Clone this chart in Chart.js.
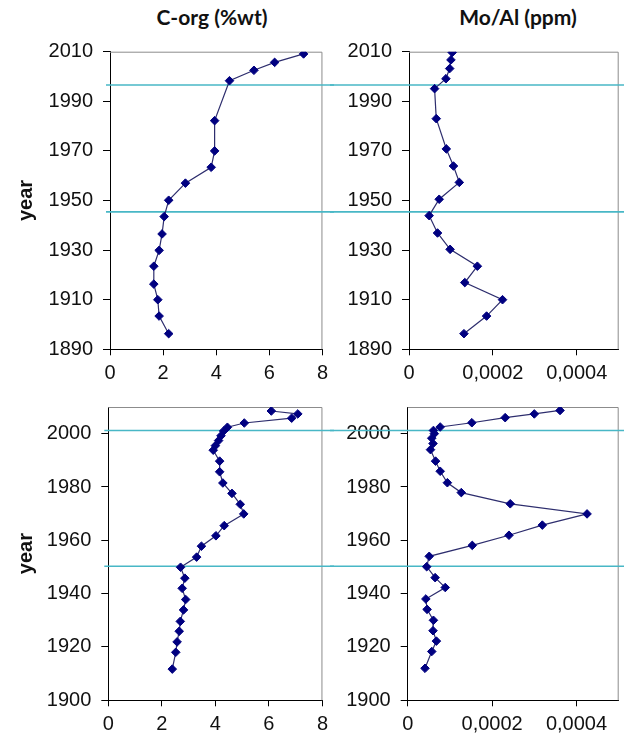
<!DOCTYPE html>
<html>
<head>
<meta charset="utf-8">
<script src="https://cdn.jsdelivr.net/npm/chart.js@4"></script>
<style>
  html, body { margin: 0; padding: 0; background: #fff; }
  #page { position: relative; width: 624px; height: 734px; overflow: hidden; }
  canvas { position: absolute; }
  .head { position: absolute; top: 4px; font: bold 21px Lato, "Open Sans", sans-serif; color: #111; white-space: nowrap; transform: translateX(-50%); }
</style>
</head>
<body>
<div id="page">
  <div class="head" style="left:212px">C-org (%wt)</div>
  <div class="head" style="left:518px">Mo/Al (ppm)</div>
  <canvas id="tl" width="334" height="385" style="left:0;top:0"></canvas>
  <canvas id="tr" width="294" height="385" style="left:330px;top:0"></canvas>
  <canvas id="bl" width="334" height="349" style="left:0;top:385px"></canvas>
  <canvas id="br" width="294" height="349" style="left:330px;top:385px"></canvas>
</div>
<script>
// Upper core: organic carbon and Mo/Al profiles by year
const corgUpperYears = [2009.1, 2005.7, 2002.5, 1998.3, 1982.2, 1970.0, 1963.4, 1957.0, 1950.1, 1943.5, 1936.5, 1929.9, 1923.5, 1916.3, 1910.0, 1903.4, 1896.3];
const corgUpperValues = [7.29, 6.2, 5.42, 4.5, 3.94, 3.94, 3.81, 2.84, 2.21, 2.04, 1.96, 1.85, 1.65, 1.65, 1.8, 1.85, 2.21];
const moalUpperYears = [2009.7, 2006.7, 2003.2, 1999.1, 1995.1, 1983.0, 1970.8, 1963.9, 1957.3, 1950.5, 1943.9, 1936.9, 1930.3, 1923.5, 1916.9, 1910.0, 1903.4, 1896.3];
const moalUpperValues = [0.000103, 0.0001, 0.000097, 0.000088, 0.000061, 0.000065, 0.000089, 0.000106, 0.00012, 0.000072, 0.000048, 0.000068, 0.000098, 0.000163, 0.000133, 0.000223, 0.000185, 0.000131];

// Lower core
const corgLowerYears = [2008.5, 2007.4, 2005.8, 2004.0, 2002.4, 2001.0, 1999.2, 1997.4, 1995.5, 1993.8, 1989.7, 1985.7, 1981.5, 1977.6, 1973.5, 1969.9, 1965.5, 1961.7, 1957.8, 1953.7, 1949.9, 1945.8, 1942.0, 1937.8, 1933.9, 1929.6, 1925.9, 1921.9, 1918.0, 1911.7];
const corgLowerValues = [6.09, 7.08, 6.85, 5.08, 4.45, 4.31, 4.21, 4.12, 4.0, 3.92, 4.16, 4.16, 4.28, 4.62, 4.93, 5.06, 4.33, 4.02, 3.48, 3.3, 2.7, 2.86, 2.76, 2.89, 2.81, 2.69, 2.65, 2.57, 2.52, 2.39];
const moalLowerYears = [2008.7, 2007.4, 2006.0, 2004.1, 2002.5, 2001.2, 2000.0, 1998.3, 1996.3, 1994.0, 1989.7, 1985.9, 1981.6, 1977.9, 1973.7, 1969.9, 1965.7, 1961.9, 1958.1, 1954.0, 1950.1, 1946.0, 1942.3, 1938.0, 1934.1, 1930.0, 1926.1, 1922.2, 1918.3, 1912.0];
const moalLowerValues = [0.000361, 0.0003, 0.000231, 0.000152, 0.000077, 0.000061, 0.000063, 0.000057, 0.00006, 0.000054, 0.000066, 0.000077, 0.000094, 0.000127, 0.000243, 0.000425, 0.000319, 0.00024, 0.000153, 0.000051, 0.000045, 0.000065, 0.000089, 0.000043, 0.000046, 0.000061, 0.00006, 0.000068, 0.000057, 0.000041];

// Horizontal marker years dividing the profiles
const upperDividerYears = [1996.6, 1945.4];
const lowerDividerYears = [2001.2, 1950.3];

// Axis ticks
const upperYearTicks = [1890, 1910, 1930, 1950, 1970, 1990, 2010];
const lowerYearTicks = [1900, 1920, 1940, 1960, 1980, 2000];
const corgTicks = [0, 2, 4, 6, 8];
const moalTicks = [0, 0.0002, 0.0004];

const FONT = { family: '"Liberation Sans", Arial, sans-serif', size: 20 };
const MARK = '#000080';

function pairs(xs, ys) { return xs.map((x, i) => ({ x: x, y: ys[i] })); }
function commaFmt(v) { return String(+(+v).toFixed(6)).replace('.', ','); }

const dividerPlugin = {
  id: 'dividers',
  beforeDatasetsDraw(chart, args, opts) {
    const { ctx, chartArea: a, scales } = chart;
    ctx.save();
    // grey frame on top and right
    ctx.strokeStyle = '#8c8c8c';
    ctx.lineWidth = 1;
    ctx.beginPath();
    ctx.moveTo(a.left, a.top + 0.5);
    ctx.lineTo(a.right - 0.5, a.top + 0.5);
    ctx.lineTo(a.right - 0.5, a.bottom);
    ctx.stroke();
    // divider lines crossing the panel row
    ctx.strokeStyle = '#48b7c6';
    ctx.lineWidth = 1.6;
    for (const yr of opts.years) {
      const y = scales.y.getPixelForValue(yr);
      ctx.beginPath();
      ctx.moveTo(opts.fromLeft ? a.left - 4 : 0, y);
      ctx.lineTo(chart.width, y);
      ctx.stroke();
    }
    ctx.restore();
  }
};

function makePanel(id, cfg) {
  return new Chart(document.getElementById(id), {
    type: 'scatter',
    data: {
      datasets: [{
        data: pairs(cfg.xs, cfg.ys),
        showLine: true,
        borderColor: '#2e2e6e',
        borderWidth: 1.2,
        pointStyle: 'rectRot',
        pointRadius: 4.3,
        pointBackgroundColor: MARK,
        pointBorderColor: MARK,
        pointBorderWidth: 1
      }]
    },
    options: {
      responsive: false,
      animation: false,
      layout: { padding: cfg.padding },
      plugins: {
        legend: { display: false },
        tooltip: { enabled: false },
        dividers: { years: cfg.dividers, fromLeft: cfg.fromLeft }
      },
      scales: {
        x: {
          type: 'linear',
          min: cfg.xMin, max: cfg.xMax,
          afterBuildTicks: s => { s.ticks = cfg.xTicks.map(v => ({ value: v })); },
          afterFit: s => { s.height = cfg.xHeight; },
          grid: { display: true, drawOnChartArea: false, drawTicks: true, tickLength: 6, color: '#000' },
          border: { display: true, color: '#000', width: 1 },
          ticks: { font: FONT, color: '#111', padding: 6, maxRotation: 0, autoSkip: false, callback: commaFmt }
        },
        y: {
          type: 'linear',
          min: cfg.yMin, max: cfg.yMax,
          afterBuildTicks: s => { s.ticks = cfg.yTicks.map(v => ({ value: v })); },
          afterFit: s => { s.width = cfg.yWidth; },
          grid: { display: true, drawOnChartArea: false, drawTicks: true, tickLength: 7, color: '#000' },
          border: { display: true, color: '#000', width: 1 },
          ticks: { font: FONT, color: '#111', padding: 10, autoSkip: false, callback: v => String(v) },
          title: cfg.yTitle ? {
            display: true, text: 'year', color: '#111',
            font: { family: '"Liberation Sans", Arial, sans-serif', size: 20, weight: 'bold' },
            padding: { top: 14, bottom: 0 }
          } : { display: false }
        }
      }
    },
    plugins: [dividerPlugin]
  });
}

makePanel('tl', {
  xs: corgUpperValues, ys: corgUpperYears, xMin: 0, xMax: 8, xTicks: corgTicks,
  yMin: 1890, yMax: 2010, yTicks: upperYearTicks, yWidth: 110, yTitle: true, xHeight: 33.7,
  padding: { top: 51.7, right: 0, bottom: 2, left: 0 },
  dividers: upperDividerYears, fromLeft: true
});
makePanel('tr', {
  xs: moalUpperValues, ys: moalUpperYears, xMin: 0, xMax: 0.0005, xTicks: moalTicks,
  yMin: 1890, yMax: 2010, yTicks: upperYearTicks, yWidth: 79, yTitle: false, xHeight: 33.7,
  padding: { top: 51.7, right: 0.5, bottom: 2, left: 0 },
  dividers: upperDividerYears, fromLeft: false
});
makePanel('bl', {
  xs: corgLowerValues, ys: corgLowerYears, xMin: 0, xMax: 8, xTicks: corgTicks,
  yMin: 1900, yMax: 2010, yTicks: lowerYearTicks, yWidth: 108.3, yTitle: true, xHeight: 33.7,
  padding: { top: 14, right: 0, bottom: 0, left: 0 },
  dividers: lowerDividerYears, fromLeft: true
});
makePanel('br', {
  xs: moalLowerValues, ys: moalLowerYears, xMin: 0, xMax: 0.0005, xTicks: moalTicks,
  yMin: 1900, yMax: 2010, yTicks: lowerYearTicks, yWidth: 77.7, yTitle: false, xHeight: 33.7,
  padding: { top: 14, right: 0, bottom: 0, left: 0 },
  dividers: lowerDividerYears, fromLeft: false
});
</script>
</body>
</html>
